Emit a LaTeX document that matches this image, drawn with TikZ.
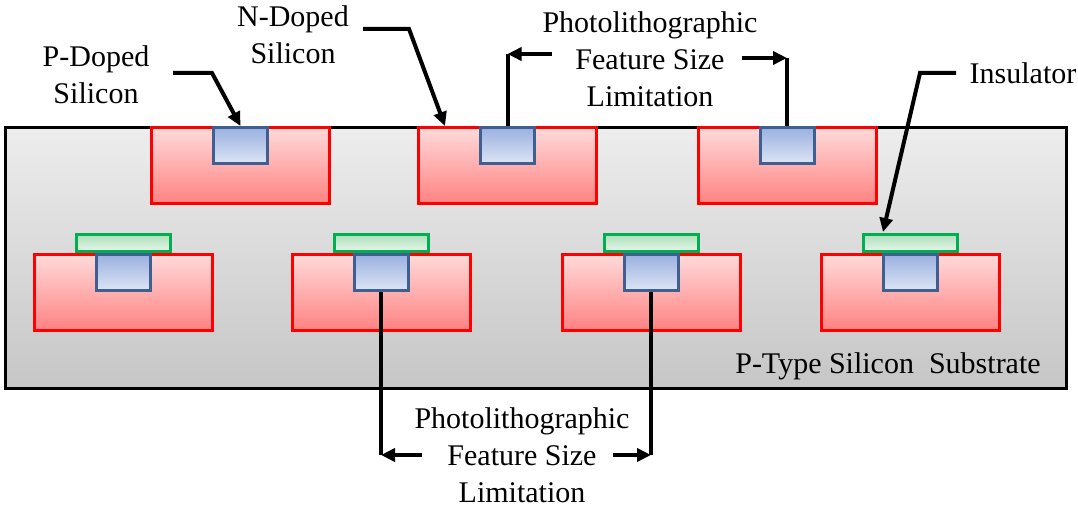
\documentclass[tikz,border=0pt]{standalone}
\usepackage{fontspec}
\setmainfont{Liberation Serif}
\newfontfamily\lblfont{Liberation Serif}
\usepackage{tikz}
\usetikzlibrary{arrows.meta}

\definecolor{subtop}{HTML}{EDEDED}
\definecolor{subbot}{HTML}{C6C6C6}
\definecolor{welltop}{HTML}{FFDADA}
\definecolor{wellbot}{HTML}{FF8282}
\definecolor{difftop}{HTML}{9AB0E0}
\definecolor{diffbot}{HTML}{DDE5F5}
\definecolor{diffedge}{HTML}{3E5F8F}
\definecolor{oxtop}{HTML}{AEE0BA}
\definecolor{oxbot}{HTML}{E6F6EA}
\definecolor{oxedge}{HTML}{00B050}

\tikzset{
	substrate/.style={draw=black, line width=3pt, top color=subtop, bottom color=subbot,
		minimum width=1061pt, minimum height=260pt, inner sep=0pt},
	pwell/.style={draw=red, line width=3pt, top color=welltop, bottom color=wellbot,
		minimum width=178pt, minimum height=76pt, inner sep=0pt},
	ndiff/.style={draw=diffedge, line width=3pt, top color=difftop, bottom color=diffbot,
		minimum width=54pt, minimum height=36pt, inner sep=0pt},
	oxide/.style={draw=oxedge, line width=3pt, top color=oxtop, bottom color=oxbot,
		minimum width=94pt, minimum height=17pt, inner sep=0pt},
	lbl/.style={font=\lblfont\fontsize{30}{37}\selectfont, align=center},
	line/.style={line width=4pt},
	ptr/.style={line width=4pt, -{Triangle[length=14pt,width=13pt]}}
}

\begin{document}
\begin{tikzpicture}[x=1pt,y=-1pt]
		\useasboundingbox (0,0) rectangle (1078,510);

		% substrate
		\node[substrate] (sub) at (536,258) {};
		\node[lbl] (sublabel) at (888,366) {P-Type Silicon~~Substrate};

		% upper row
		\node[pwell] (well1) at (240.5,165.5) {};
		\node[pwell] (well2) at (507.5,165.5) {};
		\node[pwell] (well3) at (787,165.5) {};
		\node[ndiff, anchor=north] (diff1) at (well1.north) {};
		\node[ndiff, anchor=north] (diff2) at (well2.north) {};
		\node[ndiff, anchor=north] (diff3) at (well3.north) {};

		% lower row
		\node[pwell] (well4) at (123,292.5) {};
		\node[pwell] (well5) at (381,292.5) {};
		\node[pwell] (well6) at (651,292.5) {};
		\node[pwell] (well7) at (910,292.5) {};
		\node[ndiff, anchor=north] (diff4) at (well4.north) {};
		\node[ndiff, anchor=north] (diff5) at (well5.north) {};
		\node[ndiff, anchor=north] (diff6) at (well6.north) {};
		\node[ndiff, anchor=north] (diff7) at (well7.north) {};
		\node[oxide, anchor=south] (ox4) at (well4.north) {};
		\node[oxide, anchor=south] (ox5) at (well5.north) {};
		\node[oxide, anchor=south] (ox6) at (well6.north) {};
		\node[oxide, anchor=south] (ox7) at (well7.north) {};

		% labels
		\node[lbl] (pdoped) at (96,75) {P-Doped\\Silicon};
		\node[lbl] (ndoped) at (293,35) {N-Doped\\Silicon};
		\node[lbl] (topsize) at (650,59) {Photolithographic\\Feature Size\\Limitation};
		\node[lbl] (botsize) at (522,455) {Photolithographic\\Feature Size\\Limitation};
		\node[lbl] (insul) at (1023,73) {Insulator};

		% pointers
		\coordinate (pstart) at (173,73);
		\coordinate (pbend) at (212,73);
		\coordinate (nstart) at (363,29);
		\coordinate (nbend) at (409,29);
		\coordinate (ntip) at (445,126);
		\coordinate (istart) at (956,73);
		\coordinate (ibend) at (920,73);
		\coordinate (itip) at (883,232);
		\coordinate (tl) at (552,54);
		\coordinate (tr) at (742,58);
		\coordinate (bl) at (422,455);
		\coordinate (br) at (613,455);

		\draw [ptr] (pstart) -- (pbend) -- (diff1.north);
		\draw [ptr] (nstart) -- (nbend) -- (ntip);
		\draw [ptr] (istart) -- (ibend) -- (itip);

		\draw [line] (diff2.north) to (tl -| diff2.north);
		\draw [ptr] (tl) to (tl -| diff2.north);
		\draw [line] (diff3.north) to (tr -| diff3.north);
		\draw [ptr] (tr) to (tr -| diff3.north);

		\draw [line] (diff5.south) to (bl -| diff5.south);
		\draw [ptr] (bl) to (bl -| diff5.south);
		\draw [line] (diff6.south) to (br -| diff6.south);
		\draw [ptr] (br) to (br -| diff6.south);
\end{tikzpicture}
\end{document}
